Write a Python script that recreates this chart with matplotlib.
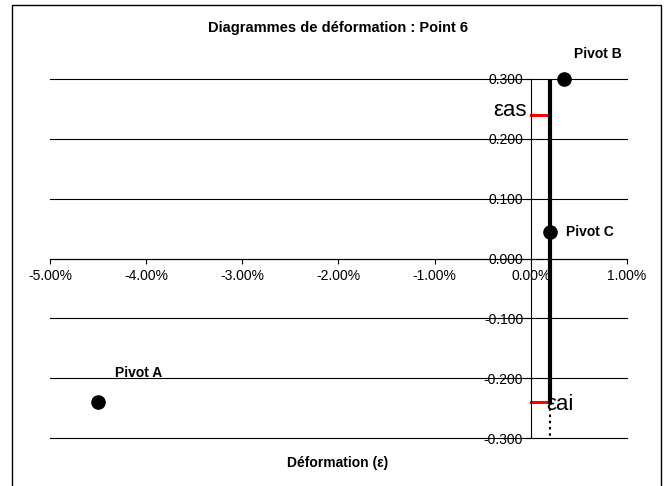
import matplotlib as mlp
mlp.use('Agg')
import matplotlib.pyplot as plt
from matplotlib import rcParams
from matplotlib.patches import Rectangle
from matplotlib.ticker import PercentFormatter, FormatStrFormatter

rcParams['font.family'] = ['Liberation Sans', 'DejaVu Sans']
rcParams['font.size'] = 10
rcParams['axes.unicode_minus'] = False

# deformation (strain) and height positions
pivot_names = ['Pivot A', 'Pivot B', 'Pivot C']
pivot_x = [-0.045, 0.0035, 0.002]
pivot_y = [-0.24, 0.300, 0.045]

diag_x = [0.002, 0.002]
diag_y = [0.300, -0.24]
diag_tail_y = [-0.24, -0.300]

steel_x = [0.0, 0.002]
eps_as_y = 0.24
eps_ai_y = -0.24

xticks = [-0.05, -0.04, -0.03, -0.02, -0.01, 0.0, 0.01]
yticks = [-0.3, -0.2, -0.1, 0.0, 0.1, 0.2, 0.3]

fig = plt.figure(figsize=(6.66, 4.86), dpi=100)
ax = fig.add_axes([50 / 666, 1 - 438 / 486, 577 / 666, 359 / 486])

# chart frame
fig.patches.append(Rectangle((12 / 666, -0.1), 649 / 666, 1.1 - 5 / 486,
                             transform=fig.transFigure, fill=False,
                             edgecolor='black', linewidth=1.0))

ax.set_xlim(-0.05, 0.01)
ax.set_ylim(-0.3, 0.3)
ax.set_xticks(xticks)
ax.set_yticks(yticks)
ax.xaxis.set_major_formatter(PercentFormatter(xmax=1, decimals=2))
ax.yaxis.set_major_formatter(FormatStrFormatter('%.3f'))

ax.spines['left'].set_position(('data', 0))
ax.spines['bottom'].set_position(('data', 0))
ax.spines['top'].set_visible(False)
ax.spines['right'].set_visible(False)
ax.spines['left'].set_linewidth(0.8)
ax.spines['bottom'].set_linewidth(0.8)
ax.tick_params(axis='x', direction='out', length=3.5, width=0.8, pad=4, labelsize=10)
ax.tick_params(axis='y', direction='out', length=3.5, width=0.8, pad=2, labelsize=10)

for yv in yticks:
    ax.axhline(yv, color='black', linewidth=0.8, zorder=0, clip_on=False)

ax.plot(diag_x, diag_y, color='black', linewidth=3, zorder=3)
ax.plot(diag_x, diag_tail_y, color='black', linewidth=1.5, linestyle=(0, (1.2, 1.8)), zorder=3)
ax.plot(steel_x, [eps_as_y, eps_as_y], color='red', linewidth=2.2, zorder=2)
ax.plot(steel_x, [eps_ai_y, eps_ai_y], color='red', linewidth=2.2, zorder=2)

ax.plot(pivot_x, pivot_y, 'o', color='black', markersize=9.5, linestyle='none', zorder=4,
        clip_on=False)

offsets = [(12, 21), (6.5, 18), (11.5, 0)]
for name, px, py, off in zip(pivot_names, pivot_x, pivot_y, offsets):
    ax.annotate(name, (px, py), xytext=off, textcoords='offset points',
                ha='left', va='center', fontweight='bold', fontsize=10,
                annotation_clip=False)

ax.annotate('εas', (steel_x[0], eps_as_y), xytext=(-3, 3), textcoords='offset points',
            ha='right', va='center', fontsize=16)
ax.annotate('εai', (steel_x[1], eps_ai_y), xytext=(-3, -2), textcoords='offset points',
            ha='left', va='center', fontsize=16)

fig.text(338 / 666, 1 - 28 / 486, 'Diagrammes de déformation : Point 6',
         ha='center', va='center', fontweight='bold', fontsize=10.5)
fig.text(338 / 666, 1 - 463 / 486, 'Déformation (ε)',
         ha='center', va='center', fontweight='bold', fontsize=10)

fig.savefig('out.png', dpi=100)
